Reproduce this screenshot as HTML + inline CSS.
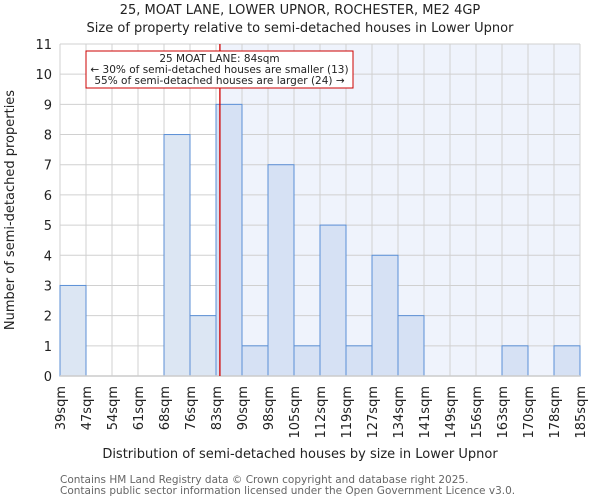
<!DOCTYPE html>
<html><head><meta charset="utf-8"><style>
body{margin:0;background:#fff;font-family:"DejaVu Sans","Liberation Sans",sans-serif}
</style></head><body>
<svg width="600" height="500" xmlns="http://www.w3.org/2000/svg" font-family="DejaVu Sans, Liberation Sans, sans-serif">
<text x="300" y="14" text-anchor="middle" font-size="13" fill="#222">25, MOAT LANE, LOWER UPNOR, ROCHESTER, ME2 4GP</text>
<text x="300" y="32" text-anchor="middle" font-size="13" fill="#222">Size of property relative to semi-detached houses in Lower Upnor</text>
<g id="plot"></g>
<text x="300" y="458" text-anchor="middle" font-size="13" fill="#222">Distribution of semi-detached houses by size in Lower Upnor</text>
<text transform="translate(14,210) rotate(-90)" text-anchor="middle" font-size="13" fill="#222">Number of semi-detached properties</text>
<text x="60" y="483" font-size="10.5" fill="#666">Contains HM Land Registry data © Crown copyright and database right 2025.</text>
<text x="60" y="494" font-size="10.5" fill="#666">Contains public sector information licensed under the Open Government Licence v3.0.</text>
</svg>
<script>
const categories=["39sqm","47sqm","54sqm","61sqm","68sqm","76sqm","83sqm","90sqm","98sqm","105sqm","112sqm","119sqm","127sqm","134sqm","141sqm","149sqm","156sqm","163sqm","170sqm","178sqm","185sqm"];
const counts=[3,0,0,0,8,2,9,1,7,1,5,1,4,2,0,0,0,1,0,1];
const yTicks=[0,1,2,3,4,5,6,7,8,9,10,11];
const subjectIndex=6.15;
const X0=60,X1=580,Y0=376,Y1=44,YMAX=11;
const bw=(X1-X0)/counts.length;
const xs=i=>X0+i*bw;
const ys=v=>Y0-(v/YMAX)*(Y0-Y1);
const NS="http://www.w3.org/2000/svg";
const g=document.getElementById('plot');
function mk(t,a){const e=document.createElementNS(NS,t);for(const k in a)e.setAttribute(k,a[k]);g.appendChild(e);return e;}
const lx=xs(subjectIndex);
let e=mk('rect',{x:lx,y:Y1,width:X1-lx,height:Y0-Y1,fill:'#eff3fc'});


yTicks.forEach(v=>{
 let l=mk('line',{x1:X0,x2:X1,y1:ys(v),y2:ys(v),stroke:'#d0d0d0','stroke-width':1});
 
 
 let t=mk('text',{x:X0-8,y:ys(v)+5,'text-anchor':'end','font-size':13,fill:'#222'});
 t.textContent=v;
 
 
});
categories.forEach((c,i)=>{
 let l=mk('line',{x1:xs(i),x2:xs(i),y1:Y1,y2:Y0,stroke:'#d0d0d0','stroke-width':1});
 
 
 let x=xs(i)+5,y=Y0+10;
 let t=mk('text',{x:x,y:y,transform:`rotate(-90 ${x} ${y})`,'text-anchor':'end','font-size':13,fill:'#222'});
 t.textContent=c;
 
 
});
counts.forEach((v,i)=>{
 if(v<=0)return;
 let r=mk('rect',{x:xs(i),y:ys(v),width:bw,height:Y0-ys(v),fill:(i<subjectIndex-0.5?'#dce6f3':'#d6e1f4'),stroke:'#5b8fd6','stroke-width':1});
 
 
});
let ax=mk('line',{x1:X0,x2:X1,y1:Y0,y2:Y0,stroke:'#cccccc','stroke-width':1.5});


let rl=mk('line',{x1:lx,x2:lx,y1:Y1,y2:Y0,stroke:'#d00000','stroke-width':1.3});


let bx=mk('rect',{x:86,y:51,width:267,height:37,fill:'#fff',stroke:'#cc0000','stroke-width':1});


["25 MOAT LANE: 84sqm","← 30% of semi-detached houses are smaller (13)","55% of semi-detached houses are larger (24) →"].forEach((s,k)=>{
 let t=mk('text',{x:219.5,y:62+k*11,'text-anchor':'middle','font-size':10.5,fill:'#222'});
 t.textContent=s;
 
 
});
</script>
</body></html>
